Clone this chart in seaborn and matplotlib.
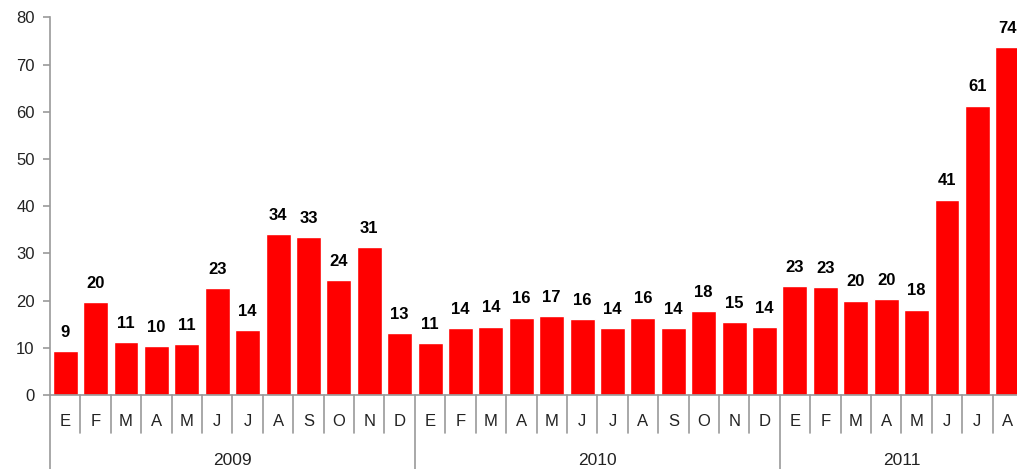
import numpy as np
import pandas as pd
import matplotlib
matplotlib.use('Agg')
import matplotlib.pyplot as plt
import matplotlib.transforms as mtransforms
import seaborn as sns

# Data
years = ['2009', '2010', '2011']
months_2009 = ['E', 'F', 'M', 'A', 'M', 'J', 'J', 'A', 'S', 'O', 'N', 'D']
months_2010 = ['E', 'F', 'M', 'A', 'M', 'J', 'J', 'A', 'S', 'O', 'N', 'D']
months_2011 = ['E', 'F', 'M', 'A', 'M', 'J', 'J', 'A']
values_2009 = [9.4, 19.7, 11.3, 10.4, 10.7, 22.6, 13.8, 34.0, 33.4, 24.3, 31.4, 13.2]
values_2010 = [11.0, 14.1, 14.5, 16.4, 16.7, 16.0, 14.1, 16.4, 14.1, 17.8, 15.4, 14.4]
values_2011 = [23.1, 22.9, 20.0, 20.4, 18.1, 41.4, 61.3, 73.7]

month_groups = [months_2009, months_2010, months_2011]
value_groups = [values_2009, values_2010, values_2011]

rows = []
for yr, ms, vs in zip(years, month_groups, value_groups):
    for m, v in zip(ms, vs):
        rows.append({'year': yr, 'month': m, 'value': v})
df = pd.DataFrame(rows)
df['pos'] = np.arange(len(df))

sns.set_style('white')
plt.rcParams['font.family'] = ['Liberation Sans', 'DejaVu Sans']

W, H = 1017, 469
fig = plt.figure(figsize=(W / 100, H / 100), dpi=100)
ax = fig.add_axes([50 / W, 74 / H, 973 / W, 377.7 / H])

sns.barplot(data=df, x='pos', y='value', color='#FF0000', saturation=1,
            width=0.82, ax=ax)

ax.bar_label(ax.containers[0], labels=[f'{v:.0f}' for v in df['value']],
             padding=8, fontsize=12, fontweight='bold', color='black')

ax.set_ylim(0, 80)
ax.set_xlim(-0.5, len(df) - 0.5)
ax.set_yticks(range(0, 81, 10))
ax.set_xticks(df['pos'], df['month'])
ax.set_xlabel('')
ax.set_ylabel('')

grey = '#9A9A9A'
for side in ['top', 'right']:
    ax.spines[side].set_visible(False)
for side in ['left', 'bottom']:
    ax.spines[side].set_color(grey)
    ax.spines[side].set_linewidth(1.2)

ax.tick_params(axis='y', direction='out', length=5, width=1.2, color=grey,
               pad=6, labelsize=12, labelcolor='#222222', left=True)
ax.tick_params(axis='x', which='major', length=0, pad=14,
               labelsize=12, labelcolor='#222222')

# month separators (short) and year separators (long)
n = len(df)
year_starts = np.cumsum([0] + [len(m) for m in month_groups])
boundaries = np.arange(n + 1) - 0.5
trans = mtransforms.blended_transform_factory(ax.transData, ax.transAxes)
for b in boundaries:
    is_year = (b + 0.5) in year_starts
    y_end = -74 / 377.7 if is_year else -38 / 377.7
    ax.plot([b, b], [0, y_end], transform=trans, color=grey, lw=1.2,
            clip_on=False)

for yr, s, e in zip(years, year_starts[:-1], year_starts[1:]):
    ax.text((s + e - 1) / 2, -65 / 377.7, yr, transform=trans, ha='center',
            va='center', fontsize=12.5, color='#222222')

fig.savefig('out.png', dpi=100)
